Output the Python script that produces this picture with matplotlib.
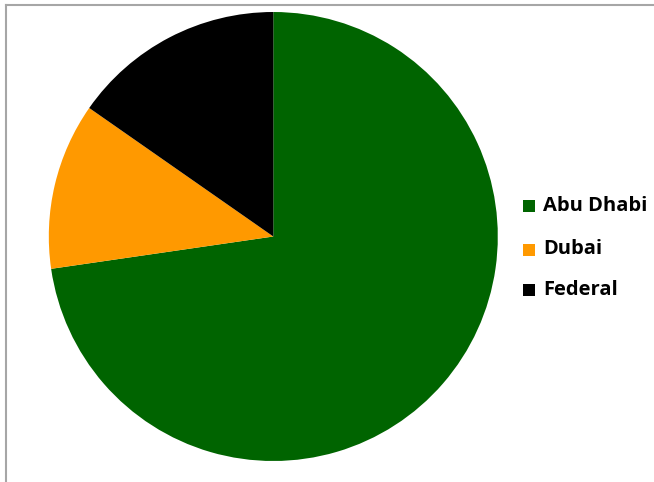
import matplotlib
matplotlib.use("Agg")
import matplotlib.pyplot as plt
from matplotlib.patches import Rectangle
from matplotlib.lines import Line2D

labels = ["Abu Dhabi", "Dubai", "Federal"]
values = [72.7, 12.0, 15.3]
colors = ["#006400", "#FF9900", "#000000"]

W, H = 654, 482
fig = plt.figure(figsize=(W / 100, H / 100), dpi=100)

cx, cy, r = 273.3, 236.5, 224.5
ax = fig.add_axes([(cx - r) / W, (H - cy - r) / H, 2 * r / W, 2 * r / H])
ax.pie(values, colors=colors, startangle=90, counterclock=False, radius=1,
       wedgeprops=dict(linewidth=0))
ax.set_xlim(-1, 1)
ax.set_ylim(-1, 1)
ax.set_aspect("auto")
ax.axis("off")

# border (top and left visible)
fig.add_artist(Line2D([6 / W, 1], [1 - 5 / H, 1 - 5 / H], color="#A6A6A6", lw=1.5,
                      transform=fig.transFigure))
fig.add_artist(Line2D([6 / W, 6 / W], [0, 1 - 5 / H], color="#A6A6A6", lw=1.5,
                      transform=fig.transFigure))

# legend
ys = [206, 249.5, 290]
for lab, col, y in zip(labels, colors, ys):
    s = 12
    fig.add_artist(Rectangle((523 / W, (H - y - s / 2) / H), s / W, s / H,
                             facecolor=col, edgecolor="none", transform=fig.transFigure))
    fig.text(543 / W, (H - y) / H, lab, fontsize=14.5, fontweight="bold",
             family="Open Sans", va="center", ha="left", color="#000000")

fig.savefig("out.png", dpi=100)
